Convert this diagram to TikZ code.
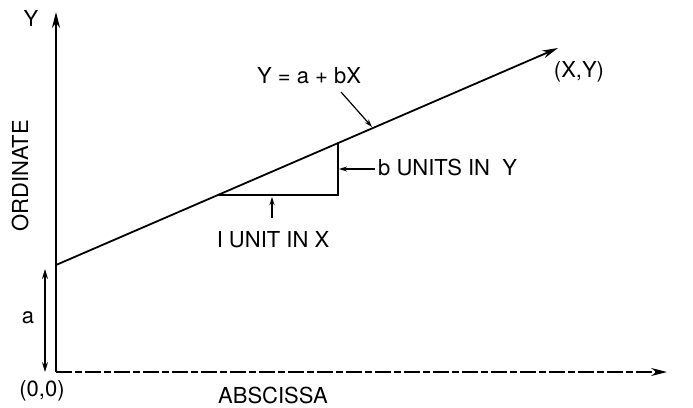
\documentclass[tikz,border=0pt]{standalone}
\usepackage{fontspec}
\setmainfont{TeX Gyre Heros}
\usetikzlibrary{arrows.meta}
\begin{document}
\begin{tikzpicture}[x=1pt,y=-1pt,
  lbl/.style={font=\fontsize{22}{26}\selectfont, inner sep=0pt},
  axis/.style={line width=1.8pt},
  bigtip/.style={-{Stealth[length=16pt,width=8pt]}},
  pointer/.style={line width=1.2pt,-{Stealth[length=8pt,width=5pt]}}]
\useasboundingbox (0,0) rectangle (693,407);
% key points
\coordinate (O) at (56,372);
\coordinate (ytop) at (56,12);
\coordinate (xend) at (667,372);
\coordinate (L0) at (56,265);
\coordinate (L1) at (558,48);
\coordinate (T1) at (218,195);
\coordinate (T2) at (338,195);
\coordinate (T3) at (338,143.5);
\coordinate (aTop) at (45,269);
\coordinate (aBot) at (45,372);
% axes
\draw[axis,bigtip] (O) -- (ytop);
\draw[line width=1.2pt,dash pattern=on 16pt off 3pt on 7pt off 3pt,-{Stealth[length=16pt,width=8pt]}] (O) -- (xend);
% regression line
\draw[axis,bigtip] (L0) -- (L1);
% slope triangle
\draw[line width=1.8pt] (T1) -- (T2) -- (T3);
% a arrow
\draw[line width=1.2pt,{Stealth[length=10pt,width=6pt]}-{Stealth[length=10pt,width=6pt]}] (aTop) -- (aBot);
% labels
\node[lbl] (Ylab) at (31,18) {Y};
\node[lbl,rotate=90] (ord) at (20,176) {ORDINATE};
\node[lbl] (alab) at (28,318) {a};
\node[lbl] (orig) at (42,391) {(0,0)};
\node[lbl] (absc) at (273,395) {ABSCISSA};
\node[lbl] (eq) at (309,76) {Y = a + bX};
\node[lbl] (xy) at (579,72) {(X,Y)};
\node[lbl,anchor=west] (bun) at (378,167) {b UNITS IN \ Y};
\node[lbl] (oun) at (273,240) {I UNIT IN X};
% pointers
\coordinate (eqA) at (341,92);
\coordinate (eqB) at (372,127);
\draw[pointer] (eqA) -- (eqB);
\coordinate (bA) at (375,169);
\coordinate (bB) at (339,169);
\draw[pointer] (bA) -- (bB);
\coordinate (oA) at (272,218);
\coordinate (oB) at (272,197);
\draw[pointer] (oA) -- (oB);
\end{tikzpicture}
\end{document}
